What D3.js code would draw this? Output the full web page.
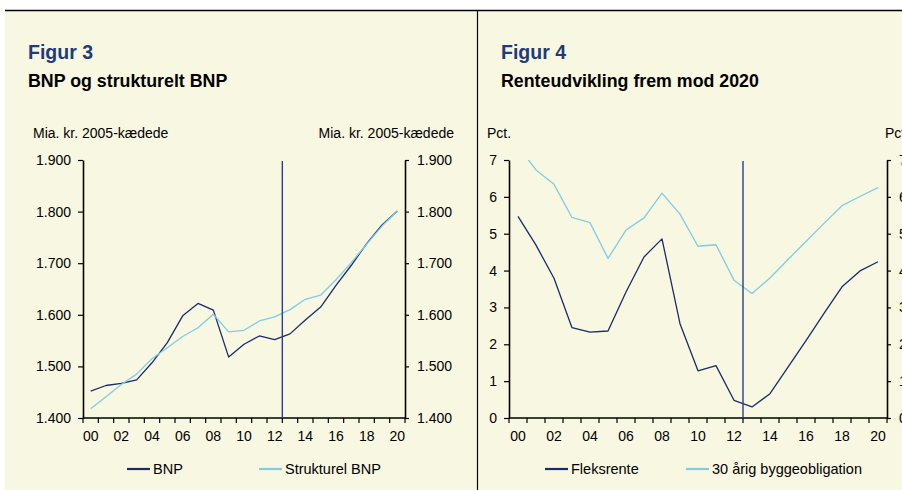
<!DOCTYPE html>
<html>
<head>
<meta charset="utf-8">
<script src="https://cdn.jsdelivr.net/npm/d3@7/dist/d3.min.js"></script>
<style>
  body { margin: 0; background: #fff; }
  svg { display: block; font-family: "Liberation Sans", Arial, sans-serif; }
</style>
</head>
<body>
<div id="chart"></div>
<script>
// categories (years 2000-2020)
const years = ['00','01','02','03','04','05','06','07','08','09','10',
               '11','12','13','14','15','16','17','18','19','20'];
const yearLabels = ['00','02','04','06','08','10','12','14','16','18','20'];
const cutYear = '13'; // vertical line: start of forecast

// Figur 3 - mia. kr.
const bnp =        [1452,1463,1467,1474,1507,1546,1598,1622,1609,1518,1543,
                    1559,1552,1563,1590,1615,1657,1696,1738,1774,1801];
const strukturel = [1418,1441,1465,1485,1515,1536,1558,1575,1601,1567,1570,
                    1588,1596,1610,1630,1638,1668,1701,1737,1772,1801];
const bnpTicks = [1400,1500,1600,1700,1800,1900];

// Figur 4 - pct.
const fleks =  [5.47,4.69,3.79,2.45,2.33,2.36,3.42,4.37,4.86,2.56,1.28,
                1.42,0.48,0.30,0.66,1.38,2.10,2.84,3.56,3.99,4.24];
const obl30 =  [7.37,6.73,6.34,5.44,5.30,4.33,5.10,5.43,6.10,5.53,4.66,
                4.70,3.74,3.38,3.80,4.30,4.79,5.28,5.76,6.01,6.25];
const pctTicks = [0,1,2,3,4,5,6,7];

const W = 902, H = 490;
const dark = '#1b2a6b', light = '#80cbe6', cutColor = '#2a3d8f';
const dk = d3.formatLocale({decimal: ',', thousands: '.', grouping: [3], currency: ['', ' kr.']});

const svg = d3.select('#chart').append('svg')
  .attr('width', W).attr('height', H);

// background + frame
svg.append('rect').attr('x', 5).attr('y', 10).attr('width', W - 5).attr('height', H - 10)
  .attr('fill', '#f8f7e1');
svg.append('line').attr('x1', 5).attr('x2', W).attr('y1', 10.5).attr('y2', 10.5)
  .attr('stroke', '#000').attr('stroke-width', 1.5);
svg.append('line').attr('x1', 477.5).attr('x2', 477.5).attr('y1', 10).attr('y2', H)
  .attr('stroke', '#000').attr('stroke-width', 1.2);

function panel(o) {
  const g = svg.append('g');
  const top = 160, bottom = 418;

  g.append('text').text(o.fig).attr('x', o.tx).attr('y', 59)
    .attr('font-size', 19.5).attr('font-weight', 'bold').attr('fill', '#1f3b78');
  g.append('text').text(o.title).attr('x', o.tx).attr('y', 87)
    .attr('font-size', 17.8).attr('font-weight', 'bold').attr('fill', '#000');

  g.append('text').text(o.unit).attr('x', o.ux0).attr('y', 138)
    .attr('font-size', 14).attr('fill', '#000');
  g.append('text').text(o.unit).attr('x', o.ux1).attr('y', 138)
    .attr('text-anchor', o.ua1).attr('font-size', 14).attr('fill', '#000');

  const x = d3.scaleBand().domain(years).range([o.x0, o.x1]);
  const y = d3.scaleLinear().domain(o.domain).range([bottom, top]);
  const cx = d => x(d) + x.bandwidth() / 2;

  const clipId = 'clip' + o.id;
  svg.append('clipPath').attr('id', clipId).append('rect')
    .attr('x', o.x0).attr('y', top).attr('width', o.x1 - o.x0).attr('height', bottom - top);

  // y axes
  const yl = g.append('g').attr('transform', `translate(${o.x0},0)`)
    .call(d3.axisLeft(y).tickValues(o.ticks).tickFormat(o.fmt).tickSize(5).tickSizeOuter(0).tickPadding(7));
  const yr = g.append('g').attr('transform', `translate(${o.x1},0)`)
    .call(d3.axisRight(y).tickValues(o.ticks).tickFormat(o.fmt).tickSize(4).tickSizeOuter(0).tickPadding(8));
  [yl, yr].forEach(a => {
    a.select('.domain').attr('stroke-width', 1.6);
    a.selectAll('.tick line').attr('stroke-width', 1.2);
    a.selectAll('text').attr('font-size', 14).attr('fill', '#000')
      .attr('font-family', '"Liberation Sans", Arial, sans-serif');
  });

  // x axis: tick marks at band edges, labels on every second year
  const xa = g.append('g').attr('transform', `translate(0,${bottom})`);
  xa.append('line').attr('x1', o.x0).attr('x2', o.x1).attr('stroke', '#000').attr('stroke-width', 1.6);
  xa.selectAll('line.tk').data(years.concat(['end'])).join('line').attr('class', 'tk')
    .attr('x1', d => d === 'end' ? o.x1 : x(d)).attr('x2', d => d === 'end' ? o.x1 : x(d))
    .attr('y1', 0).attr('y2', 5).attr('stroke', '#000').attr('stroke-width', 1.2);
  xa.selectAll('text').data(yearLabels).join('text')
    .attr('x', cx).attr('y', 23).attr('text-anchor', 'middle')
    .attr('font-size', 14).attr('fill', '#000').text(d => d);

  // lines
  const line = d3.line().x((d, i) => cx(years[i])).y(d => y(d));
  o.series.forEach(s => {
    g.append('path').datum(s.values).attr('d', line)
      .attr('fill', 'none').attr('stroke', s.color).attr('stroke-width', 1.3)
      .attr('stroke-linejoin', 'round').attr('clip-path', `url(#${clipId})`);
  });

  // forecast divider
  g.append('line').attr('x1', x(cutYear)).attr('x2', x(cutYear))
    .attr('y1', top + 1).attr('y2', bottom)
    .attr('stroke', cutColor).attr('stroke-width', 1.4);

  // legend
  o.series.forEach(s => {
    g.append('line').attr('x1', s.lx).attr('x2', s.lx + 23).attr('y1', 469).attr('y2', 469)
      .attr('stroke', s.color).attr('stroke-width', 2.2);
    g.append('text').text(s.name).attr('x', s.lx + 26).attr('y', 474)
      .attr('font-size', 14.5).attr('fill', '#000');
  });
}

panel({
  id: 3, fig: 'Figur 3', title: 'BNP og strukturelt BNP', tx: 28,
  unit: 'Mia. kr. 2005-kædede', ux0: 33, ux1: 454, ua1: 'end',
  x0: 83, x1: 405, domain: [1400, 1900], ticks: bnpTicks, fmt: dk.format(',d'),
  series: [
    {name: 'BNP', values: bnp, color: dark, lx: 127},
    {name: 'Strukturel BNP', values: strukturel, color: light, lx: 259}
  ]
});

panel({
  id: 4, fig: 'Figur 4', title: 'Renteudvikling frem mod 2020', tx: 501,
  unit: 'Pct.', ux0: 487, ux1: 885, ua1: 'start',
  x0: 509, x1: 887, domain: [0, 7], ticks: pctTicks, fmt: d3.format('d'),
  series: [
    {name: 'Fleksrente', values: fleks, color: dark, lx: 545},
    {name: '30 årig byggeobligation', values: obl30, color: light, lx: 686}
  ]
});
</script>
</body>
</html>
